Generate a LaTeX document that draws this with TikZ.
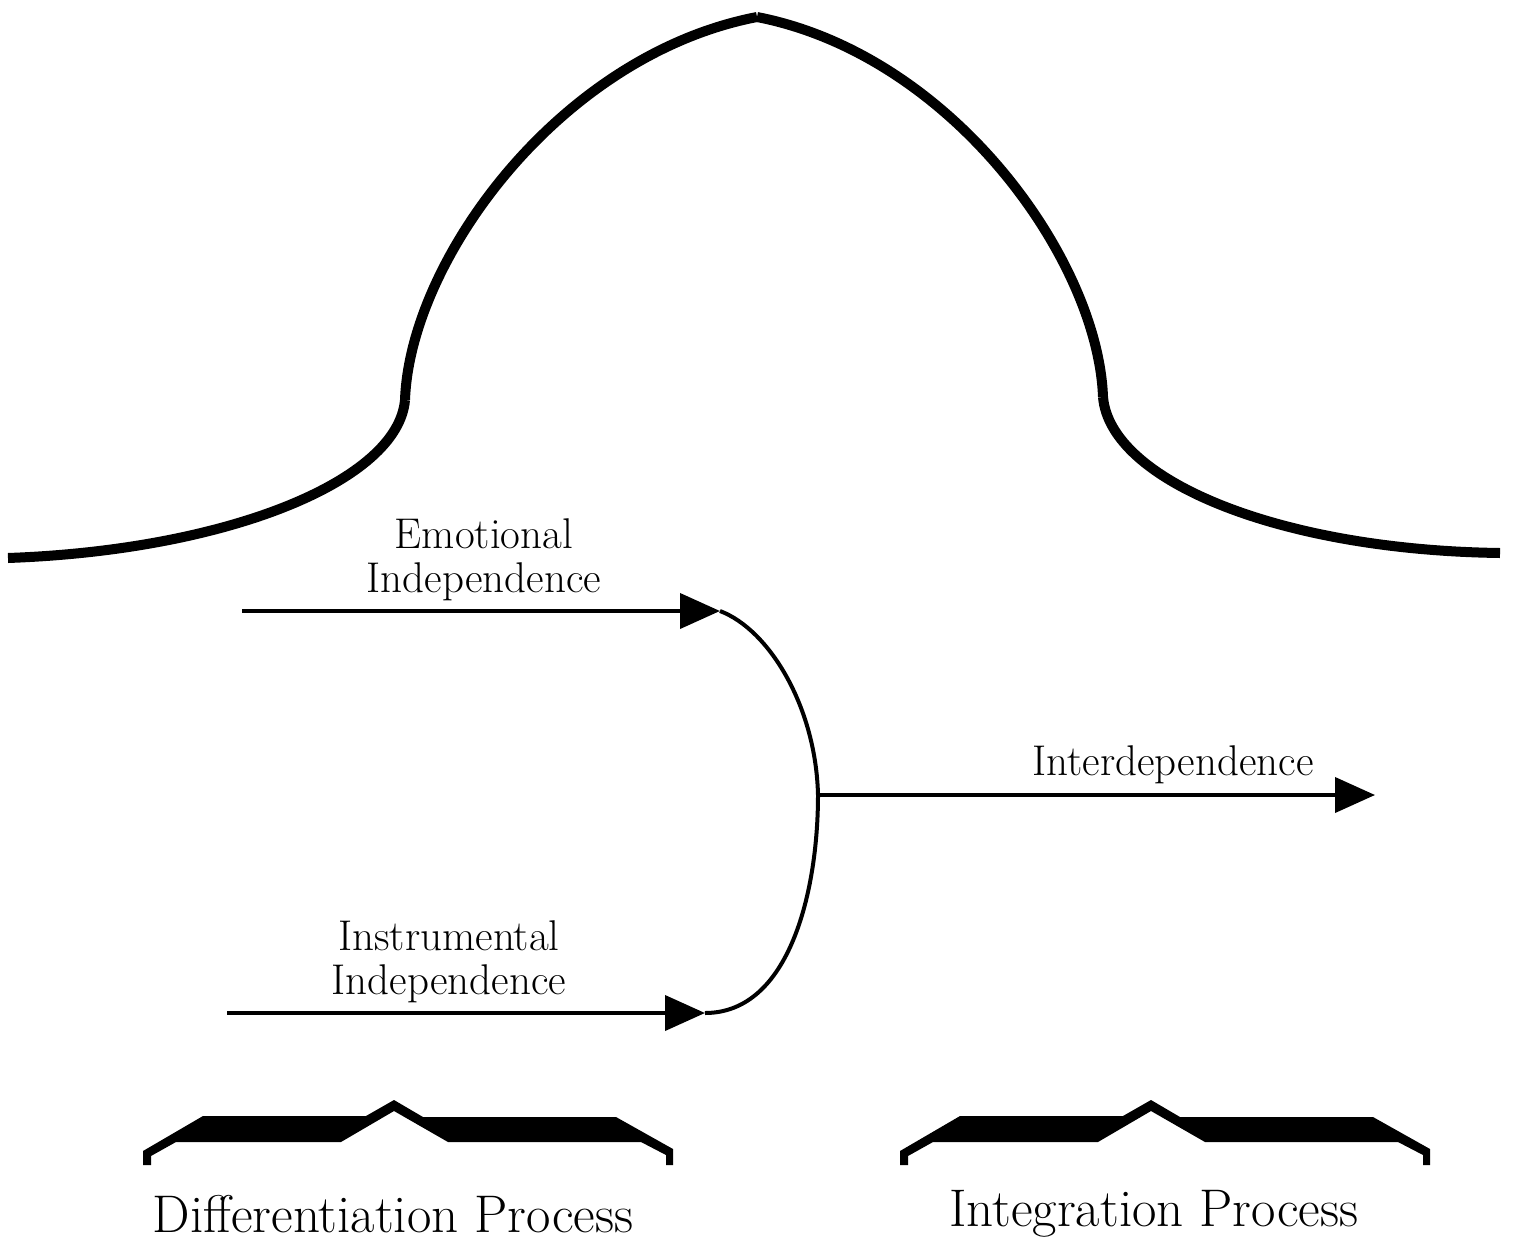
\documentclass[tikz,border=0pt]{standalone}
\usetikzlibrary{arrows.meta}
\begin{document}
\begin{tikzpicture}[x=0.5pt,y=-0.5pt,
  bell/.style={line width=5pt},
  flow/.style={line width=2pt,-{Triangle[length=20pt,width=17.5pt]}},
  merge/.style={line width=2pt},
  lbl/.style={font=\fontsize{21.5}{22}\selectfont,align=center,inner sep=0pt},
  big/.style={font=\fontsize{26.5}{30}\selectfont,inner sep=0pt},
  bracefill/.style={fill=black}]
\useasboundingbox (0,0) rectangle (1514,1242);
% bell-shaped curve
\coordinate (bL) at (8,558);
\coordinate (jL) at (405,400);
\coordinate (pk) at (757,17);
\coordinate (jR) at (1103,397);
\coordinate (bR) at (1500,553);
\draw[bell] (bL) .. controls (230,550) and (398,480) .. (jL);
\draw[bell] (jL) .. controls (410,260) and (560,55) .. (pk);
\draw[bell] (pk) .. controls (952,55) and (1098,260) .. (jR);
\draw[bell] (jR) .. controls (1110,480) and (1278,550) .. (bR);
% flows
\coordinate (e0) at (242,611);
\coordinate (e1) at (720,611);
\coordinate (i0) at (227,1013);
\coordinate (i1) at (705,1013);
\coordinate (m) at (818,795);
\coordinate (o1) at (1375,795);
\draw[flow] (e0) -- (e1);
\draw[flow] (i0) -- (i1);
\draw[merge] (e1) .. controls (770,630) and (816,708) .. (m) .. controls (818,890) and (790,1013) .. (i1);
\draw[flow] (m) -- (o1);
% labels
\node[lbl] (emo) at (484,560) {Emotional\\Independence};
\node[lbl] (inst) at (449,962) {Instrumental\\Independence};
\node[lbl] (inter) at (1173,765) {Interdependence};
\node[big] (diff) at (393,1214) {Differentiation Process};
\node[big] (integ) at (1154,1214) {Integration Process};
% braces
\foreach \dx in {0,757}{
  \fill[bracefill,shift={(\dx,0)}] (143,1165) -- (143,1151) -- (203,1116) -- (366,1116) -- (394,1100) -- (423,1117) -- (616,1117) -- (673,1149) -- (673,1165) -- (666,1165) -- (666,1155) -- (641,1142) -- (448,1142) -- (394,1111) -- (341,1142) -- (176,1142) -- (151,1156) -- (151,1165) -- cycle;
}
\end{tikzpicture}
\end{document}
